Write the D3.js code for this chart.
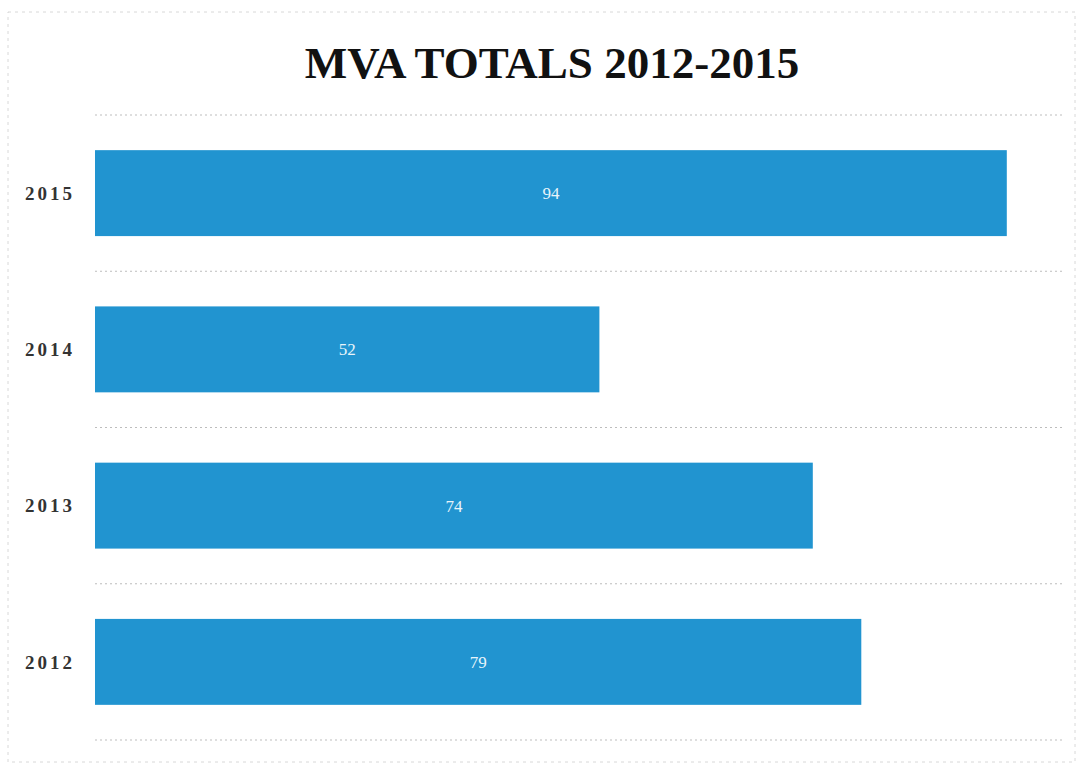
<html>
<head>
<meta charset="UTF-8">
<title>MVA Totals</title>
<script src="https://cdn.jsdelivr.net/npm/d3@7"></script>
<style>
  body { margin:0; background:#fff; }
  svg text { font-family: "Liberation Serif", "DejaVu Serif", serif; }
</style>
</head>
<body>
<svg id="chart" width="1081" height="768"></svg>
<script>
// data
var years  = ["2015", "2014", "2013", "2012"];
var totals = [94, 52, 74, 79];
var xTicks = [0, 100];

var svg = d3.select("#chart");
var W = 1081, H = 768;
var m = {left: 95, right: 16, top: 115, bottom: 28};

// faint scan border
svg.append("rect")
    .attr("x", 8).attr("y", 12)
    .attr("width", W - 14).attr("height", H - 18)
    .attr("fill", "none")
    .attr("stroke", "#d8d8d8")
    .attr("stroke-width", 1)
    .attr("stroke-dasharray", "3,4");

var x = d3.scaleLinear().domain([xTicks[0], xTicks[1]]).range([m.left, W - m.right]);
var y = d3.scaleBand().domain(years).range([m.top, H - m.bottom]).paddingInner(0.45).paddingOuter(0.225);

// title
svg.append("text")
    .attr("x", 552).attr("y", 78)
    .attr("text-anchor", "middle")
    .attr("font-size", 45)
    .attr("font-weight", "bold")
    .attr("fill", "#111")
    .text("MVA TOTALS 2012-2015");

// dotted separators between categories
var step = y.step();
var seps = d3.range(years.length + 1).map(function(i){ return m.top + i * step; });
svg.selectAll("line.sep")
    .data(seps)
    .enter().append("line")
    .attr("class", "sep")
    .attr("x1", m.left).attr("x2", W - m.right)
    .attr("y1", function(d){ return d; })
    .attr("y2", function(d){ return d; })
    .attr("stroke", "#bdbdbd")
    .attr("stroke-width", 1)
    .attr("stroke-dasharray", "2,3");

var rows = years.map(function(yr, i){ return {year: yr, v: totals[i]}; });

svg.selectAll("rect.bar")
    .data(rows)
    .enter().append("rect")
    .attr("class", "bar")
    .attr("x", x(0))
    .attr("y", function(d){ return y(d.year); })
    .attr("width", function(d){ return x(d.v) - x(0); })
    .attr("height", y.bandwidth())
    .attr("fill", "#2194d0");

// value labels
svg.selectAll("text.val")
    .data(rows)
    .enter().append("text")
    .attr("class", "val")
    .attr("x", function(d){ return (x(0) + x(d.v)) / 2; })
    .attr("y", function(d){ return y(d.year) + y.bandwidth() / 2 + 6; })
    .attr("text-anchor", "middle")
    .attr("font-size", 17)
    .attr("fill", "#e8f4fb")
    .text(function(d){ return d.v; });

// category axis, drawn by d3 then stripped of its line
var ax = svg.append("g")
    .attr("transform", "translate(" + (m.left - 20) + ",0)")
    .call(d3.axisLeft(y).tickSize(0).tickPadding(0));
ax.select(".domain").remove();
ax.selectAll("text")
    .attr("font-family", "\"Liberation Serif\", serif")
    .attr("font-size", 19)
    .attr("font-weight", "bold")
    .attr("letter-spacing", "3px")
    .attr("fill", "#333")
    .attr("dy", "0.35em");
</script>
</body>
</html>
